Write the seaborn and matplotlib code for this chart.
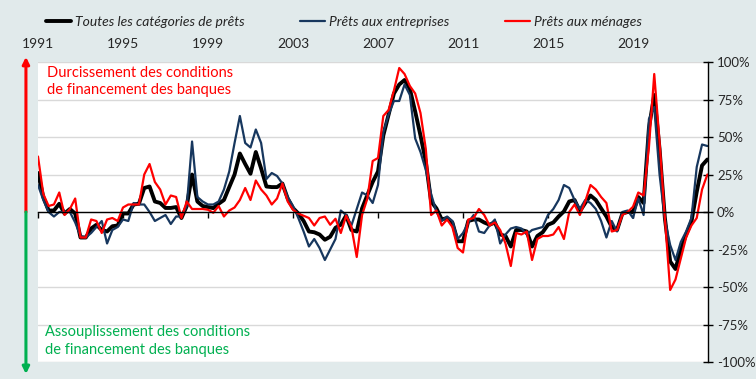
import numpy as np
import pandas as pd
import matplotlib
matplotlib.use("Agg")
import matplotlib.pyplot as plt
import seaborn as sns
from matplotlib.lines import Line2D
from matplotlib.ticker import FuncFormatter

# =========================
# DATA (quarterly, % net balance)
# =========================
START = "1991Q1"

total = [26, 10, 1, 1, 5.5, -1, 2, -1, -17, -17,
         -11, -8.5, -12, -13, -9.5, -9, -1, -1, 5, 5.5,
         16, 17, 7, 6, 2.7, 2.7, 3.3, -4, 4, 25,
         7, 4, 3.3, 2.6, 5.5, 8, 16.6, 25, 39, 32,
         25.5, 40, 29, 17, 16.6, 16.6, 19, 9, 2.6, -1,
         -6, -13, -13.5, -15, -18.5, -16.5, -10.5, -8.5, -2.4, -12,
         -13, 2.4, 11.3, 20, 27, 51, 65, 79, 85, 88,
         82, 67, 51, 33.5, 7, 2.4, -5, -4, -7, -19.5,
         -19.5, -6, -5, -5, -7, -8.5, -7, -15, -16, -23,
         -12, -12, -13, -23, -16, -13.5, -8.5, -7, -3, 0.4,
         7, 8, 0.5, 6, 11, 8, 2.4, -3, -10, -12,
         -1, 0, 0, 10, 6, 56, 78, 42, -4, -33,
         -38, -25, -15, -6.5, 13.5, 31, 35]

entreprises = [18, 8, 0, -3, 0, 0, 0, -7, -16, -17,
               -14, -10, -6, -21, -12, -10, -5, -6, 6, 5,
               5, 0, -6, -4, -2, -8, -3, -3, 4, 47,
               10, 7, 5, 5, 7, 15, 27, 46, 64, 46,
               43, 55, 46, 22, 26, 24, 19, 10, 4, -4,
               -13, -23, -18, -24, -32, -25, -18, 1, -2, -9,
               2, 13, 11, 6, 18, 53, 65, 74, 74, 85,
               78, 49, 40, 28, 12, 0, -6, -3, -6, -18,
               -14, -7, -2, -13, -14, -9, -5, -21, -15, -11,
               -10, -11, -15, -12, -11, -10, -2, 2, 8, 18,
               16, 8, 2, 8, 6, 2, -6, -17, -6, -13,
               0, 1, -4, 9, -2, 62, 70, 25, -5, -22,
               -32, -20, -13, -4, 30, 45, 44]

menages = [37, 12, 4, 5, 13, -2, 2, 9, -17, -17,
           -5, -6, -14, -5, -4, -6, 3, 5, 5, 5,
           25, 32, 20, 15, 5, 11, 10, -4, 7, 2,
           2, 2, 1.5, -0.5, 4, -3, 1, 3, 8, 16,
           8, 21, 15, 11, 5, 9, 19, 7, 1.5, -1,
           -2.5, -4, -9, -4, -3, -8.5, -4.5, -14, -2.5, -10,
           -30, -2, 9, 34, 36, 64, 68, 81, 96, 92,
           84, 79, 66, 42, -2, 1, -9, -5, -10, -24,
           -27, -5, -4, 2, -2, -9, -7, -12, -21, -36,
           -14, -15, -13, -32, -18, -16, -16, -15, -10, -18,
           0, 5, -2, 7, 18, 15, 10, 6, -13, -12,
           -2, 0, 3.5, 13, 11, 43, 92, 47, -4, -52,
           -45, -31, -17, -9, -4, 15, 25]

year_ticks = list(range(1991, 2020, 4))
pct_ticks = [-100, -75, -50, -25, 0, 25, 50, 75, 100]

labels = ["Toutes les catégories de prêts", "Prêts aux entreprises", "Prêts aux ménages"]
colors = ["#000000", "#17375e", "#ff0000"]
widths = [2.8, 1.6, 1.6]

periods = pd.period_range(START, periods=len(total), freq="Q")
df = pd.DataFrame({
    "date": periods.year + (periods.quarter - 1) / 4,
    "total": total,
    "entreprises": entreprises,
    "menages": menages,
})

# =========================
# STYLE
# =========================
sns.set_theme(style="white")
plt.rcParams["font.family"] = ["Lato", "DejaVu Sans"]
BG = "#e1eaeb"

fig = plt.figure(figsize=(7.56, 3.79), dpi=100, facecolor=BG)
ax = fig.add_axes([38 / 756, 1 - 362 / 379, 670 / 756, 300 / 379])
ax.set_facecolor("white")

# =========================
# LINES
# =========================
for col, c, lw in zip(["total", "entreprises", "menages"], colors, widths):
    sns.lineplot(data=df, x="date", y=col, ax=ax, color=c, lw=lw, legend=False)

ax.set_xlim(1991, df["date"].iloc[-1] + 0.03)
ax.set_ylim(-100, 100)
ax.set_xlabel("")
ax.set_ylabel("")

# y axis on the right
ax.yaxis.tick_right()
ax.set_yticks(pct_ticks)
ax.yaxis.set_major_formatter(FuncFormatter(lambda v, p: f"{int(v)}%"))
ax.tick_params(axis="y", which="both", right=True, left=False, direction="inout",
               length=7, width=1, color="black", labelsize=9.5, pad=3)
ax.grid(axis="y", color="#d9d9d9", lw=1)
ax.grid(axis="x", visible=False)
ax.set_axisbelow(True)

# x axis: line at zero, labels on top
ax.set_xticks(year_ticks)
ax.set_xticklabels([str(y) for y in year_ticks])
ax.spines["bottom"].set_position(("data", 0))
ax.tick_params(axis="x", bottom=True, labelbottom=False, top=False, labeltop=True,
               direction="out", length=4, width=1, color="black", labelsize=10, pad=4.5)

for s in ["top", "left"]:
    ax.spines[s].set_visible(False)
for s in ["bottom", "right"]:
    ax.spines[s].set_color("black")
    ax.spines[s].set_linewidth(1)

# =========================
# ANNOTATIONS
# =========================
ax.annotate("", xy=(-0.018, 1.017), xytext=(-0.018, 0.5), xycoords="axes fraction",
            arrowprops=dict(arrowstyle="-|>", color="#ff0000", lw=2.2,
                            mutation_scale=10, shrinkA=0, shrinkB=0),
            annotation_clip=False)
ax.annotate("", xy=(-0.018, -0.04), xytext=(-0.018, 0.5), xycoords="axes fraction",
            arrowprops=dict(arrowstyle="-|>", color="#00b050", lw=2.2,
                            mutation_scale=10, shrinkA=0, shrinkB=0),
            annotation_clip=False)

ax.text(0.013, 0.988, "Durcissement des conditions\nde financement des banques",
        transform=ax.transAxes, color="#ff0000", fontsize=10.5, va="top", ha="left",
        linespacing=1.3)
ax.text(0.010, 0.122, "Assouplissement des conditions\nde financement des banques",
        transform=ax.transAxes, color="#00b050", fontsize=10.5, va="top", ha="left",
        linespacing=1.3)

# =========================
# LEGEND
# =========================
handles = [Line2D([], [], color=c, lw=lw) for c, lw in zip(colors, widths)]
fig.legend(handles, labels, loc="center", bbox_to_anchor=(344 / 756, 1 - 22 / 379),
           ncol=3, frameon=False, prop={"style": "italic", "size": 10},
           handlelength=1.8, handletextpad=0.3, columnspacing=4.0)

fig.savefig("out.png", dpi=100, facecolor=BG)
